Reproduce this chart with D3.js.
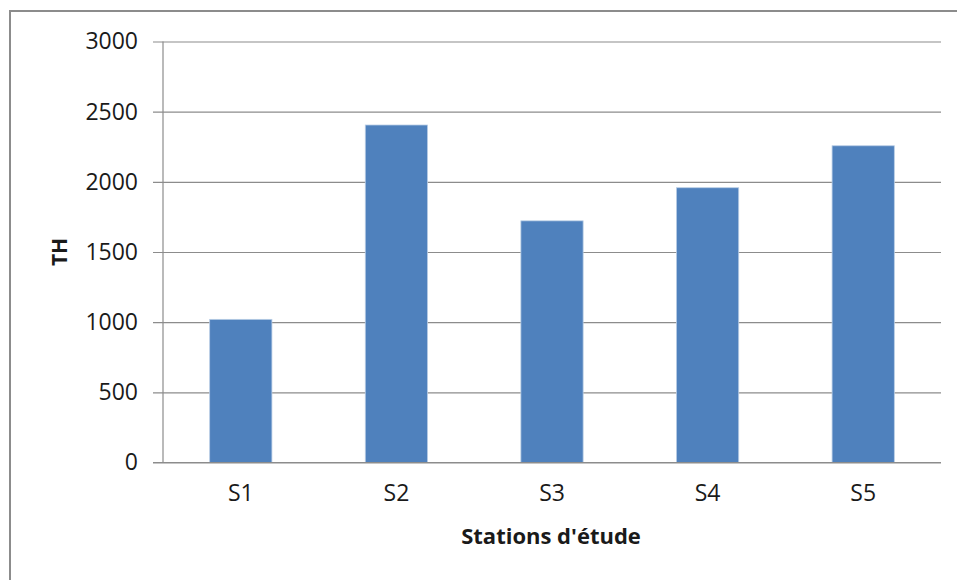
<!DOCTYPE html>
<html>
<head>
<meta charset="utf-8">
<script src="https://cdn.jsdelivr.net/npm/d3@7"></script>
<style>
  body { margin: 0; background: #fff; }
  text { font-family: "Open Sans", "Liberation Sans", sans-serif; fill: #1a1a1a; }
</style>
</head>
<body>
<div id="container"></div>
<script>
// data
var stations = ["S1", "S2", "S3", "S4", "S5"];
var thValues = [1020, 2405, 1722, 1958, 2257];
var yTicks = [0, 500, 1000, 1500, 2000, 2500, 3000];

var W = 957, H = 580;
var margin = {top: 41.5, right: 16, bottom: 117.5, left: 163},
	width = W - margin.left - margin.right,
	height = H - margin.top - margin.bottom;

var svg = d3.select("#container").append("svg")
	.attr("width", W)
	.attr("height", H);

// chart frame
svg.append("rect")
	.attr("x", 10).attr("y", 11)
	.attr("width", W + 10).attr("height", H + 10)
	.style("fill", "none")
	.style("stroke", "#8c8c8c")
	.style("stroke-width", 2);

var g = svg.append("g")
	.attr("transform", "translate(" + margin.left + "," + margin.top + ")");

var x = d3.scaleBand().domain(stations).range([0, width]).paddingInner(0.6).paddingOuter(0.3);
var y = d3.scaleLinear().domain([0, 3000]).range([height, 0]);

// gridlines + y axis
var yAxis = g.append("g")
	.call(d3.axisLeft(y).tickValues(yTicks).tickFormat(d3.format("d"))
		.tickSize(-width).tickSizeOuter(0).tickPadding(25));
yAxis.select(".domain").remove();
yAxis.selectAll(".tick line")
	.attr("x1", -10)
	.style("stroke", "#8c8c8c")
	.style("stroke-width", 1.2);
yAxis.selectAll(".tick text")
	.style("font-size", "23px")
	.style("font-family", "'Open Sans', sans-serif")
	.attr("fill", "#1a1a1a");

// y axis line
g.append("line")
	.attr("x1", 0).attr("x2", 0)
	.attr("y1", 0).attr("y2", height)
	.style("stroke", "#8c8c8c")
	.style("stroke-width", 1.2);

// bars
g.selectAll(".bar")
	.data(thValues).enter()
	.append("rect")
		.attr("class", "bar")
		.attr("x", function(d, i) { return x(stations[i]); })
		.attr("width", x.bandwidth())
		.attr("y", function(d) { return y(d); })
		.attr("height", function(d) { return height - y(d); })
		.style("fill", "#4f81bd")
		.style("stroke", "#b9cde5")
		.style("stroke-width", 0.8);

// x axis
var xAxis = g.append("g")
	.attr("transform", "translate(0," + height + ")")
	.call(d3.axisBottom(x).tickSize(0).tickSizeOuter(0).tickPadding(22));
xAxis.select(".domain").remove();
xAxis.selectAll(".tick text")
	.style("font-size", "23px")
	.style("font-family", "'Open Sans', sans-serif")
	.attr("fill", "#1a1a1a");

g.append("line")
	.attr("x1", -10).attr("x2", width)
	.attr("y1", height).attr("y2", height)
	.style("stroke", "#8c8c8c")
	.style("stroke-width", 1.2);

// axis titles
svg.append("text")
	.attr("transform", "translate(67,252) rotate(-90)")
	.style("text-anchor", "middle")
	.style("font-size", "21px")
	.style("font-weight", "bold")
	.text("TH");

svg.append("text")
	.attr("x", 551)
	.attr("y", 544)
	.style("text-anchor", "middle")
	.style("font-size", "22px")
	.style("font-weight", "bold")
	.text("Stations d'étude");
</script>
</body>
</html>
